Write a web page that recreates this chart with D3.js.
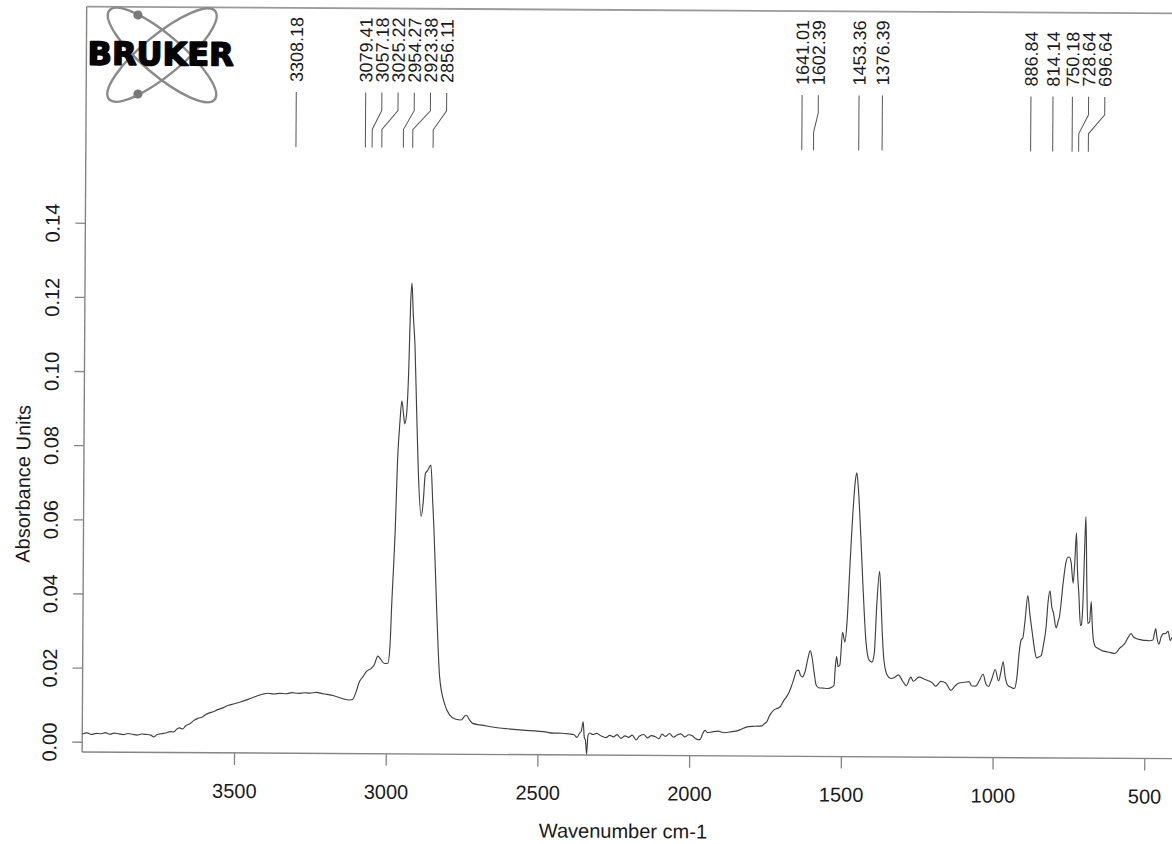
<!DOCTYPE html>
<html><head><meta charset="utf-8">
<script src="https://cdn.jsdelivr.net/npm/d3@7"></script>
<style>html,body{margin:0;padding:0;background:#fff;} svg{display:block;}</style>
</head><body>
<script>
const wavenumbers = [
4000,3985,3970,3955,3940,3925,3910,3895,3880,3865,3850,3835,3820,3805,3790,3775,3765,3755,3740,3725,
3710,3700,3690,3680,3670,3660,3645,3632,3620,3605,3595,3582,3570,3555,3540,3519,3500,3480,3455,3430,
3405,3390,3370,3350,3330,3310,3290,3270,3250,3230,3210,3195,3175,3153,3135,3120,3110,3100,3088,3075,
3066,3049,3040,3028,3020,3006,2995,2988,2984,2973,2967,2960,2954,2948,2944,2938,2932,2927,2923,2918,
2912,2905,2898,2888,2882,2875,2868,2857,2850,2846,2835,2824,2808,2790,2770,2752,2740,2735,2725,2714,
2690,2660,2626,2600,2570,2540,2510,2480,2446,2420,2395,2380,2370,2362,2356,2350,2346,2342,2338,2334,
2328,2318,2305,2290,2275,2262,2250,2238,2225,2212,2200,2188,2175,2165,2150,2138,2125,2112,2100,2090,
2078,2065,2052,2040,2028,2015,2002,1990,1980,1970,1964,1958,1948,1940,1925,1905,1885,1860,1840,1820,
1805,1785,1761,1750,1745,1737,1723,1712,1701,1690,1673,1665,1655,1648,1641,1635,1629,1620,1611,1603,
1597,1590,1583,1575,1560,1545,1530,1524,1520,1516,1511,1505,1497,1489,1482,1475,1464,1458,1453,1448,
1442,1431,1420,1409,1400,1392,1385,1376,1371,1367,1360,1349,1337,1325,1312,1300,1286,1271,1263,1244,
1225,1200,1189,1172,1156,1139,1125,1112,1095,1079,1070,1057,1045,1033,1024,1015,1004,993,982,975,
967,960,952,940,930,922,914,908,903,896,887,880,870,863,857,848,842,834,826,820,
814,808,802,793,787,782,771,762,756,750,745,738,733,728,724,719,713,710,705,700,
697,693,689,683,678,674,670,662,655,640,628,615,600,590,584,575,567,556,546,538,
529,515,505,496,485,474,469,465,460,454,447,441,432,424,417,410,400];

// Absorbance at each of those wavenumbers
const absorbance = [
0.0021,0.0024,0.0020,0.0023,0.0022,0.0025,0.0021,0.0024,0.0022,0.0020,0.0023,0.0021,0.0019,0.0022,0.0021,0.0019,0.0014,0.0020,0.0023,0.0025,
0.0029,0.0028,0.0035,0.0039,0.0036,0.0045,0.0051,0.0060,0.0065,0.0069,0.0075,0.0080,0.0083,0.0089,0.0093,0.0101,0.0105,0.0110,0.0117,0.0125,
0.0132,0.0134,0.0132,0.0134,0.0133,0.0136,0.0134,0.0136,0.0135,0.0137,0.0134,0.0132,0.0129,0.0123,0.0119,0.0117,0.0119,0.0137,0.0167,0.0182,
0.0194,0.0203,0.0212,0.0236,0.0229,0.0216,0.0217,0.0267,0.0360,0.0585,0.0764,0.0867,0.0925,0.0887,0.0863,0.0890,0.1007,0.1187,0.1243,0.1157,
0.1077,0.0897,0.0727,0.0614,0.0648,0.0730,0.0737,0.0752,0.0648,0.0586,0.0361,0.0181,0.0110,0.0078,0.0067,0.0065,0.0076,0.0078,0.0066,0.0056,
0.0052,0.0048,0.0044,0.0042,0.0040,0.0038,0.0037,0.0035,0.0031,0.0031,0.0029,0.0027,0.0020,0.0031,0.0037,0.0062,0.0020,0.0012,-0.0025,0.0025,
0.0032,0.0028,0.0031,0.0024,0.0020,0.0026,0.0022,0.0028,0.0018,0.0025,0.0021,0.0027,0.0014,0.0024,0.0029,0.0020,0.0026,0.0023,0.0018,0.0030,
0.0024,0.0032,0.0022,0.0028,0.0031,0.0023,0.0029,0.0026,0.0019,0.0016,0.0016,0.0028,0.0041,0.0035,0.0037,0.0039,0.0035,0.0038,0.0041,0.0048,
0.0052,0.0053,0.0054,0.0062,0.0065,0.0080,0.0096,0.0101,0.0106,0.0122,0.0143,0.0160,0.0185,0.0203,0.0205,0.0192,0.0187,0.0200,0.0235,0.0258,
0.0240,0.0200,0.0165,0.0158,0.0157,0.0156,0.0160,0.0165,0.0215,0.0242,0.0215,0.0220,0.0308,0.0282,0.0340,0.0467,0.0647,0.0715,0.0738,0.0700,
0.0620,0.0440,0.0287,0.0233,0.0228,0.0251,0.0377,0.0473,0.0400,0.0323,0.0233,0.0193,0.0184,0.0187,0.0194,0.0180,0.0165,0.0188,0.0177,0.0188,
0.0182,0.0173,0.0164,0.0177,0.0173,0.0153,0.0165,0.0173,0.0175,0.0177,0.0165,0.0165,0.0180,0.0197,0.0172,0.0164,0.0185,0.0210,0.0179,0.0200,
0.0231,0.0190,0.0168,0.0162,0.0159,0.0185,0.0260,0.0291,0.0295,0.0340,0.0410,0.0360,0.0300,0.0260,0.0242,0.0245,0.0248,0.0280,0.0327,0.0395,
0.0423,0.0380,0.0363,0.0323,0.0340,0.0356,0.0444,0.0500,0.0514,0.0514,0.0500,0.0444,0.0500,0.0580,0.0480,0.0416,0.0330,0.0332,0.0399,0.0560,
0.0624,0.0450,0.0336,0.0340,0.0395,0.0330,0.0291,0.0272,0.0269,0.0262,0.0260,0.0258,0.0255,0.0262,0.0269,0.0275,0.0282,0.0298,0.0309,0.0300,
0.0296,0.0293,0.0291,0.0291,0.0290,0.0292,0.0310,0.0323,0.0295,0.0281,0.0300,0.0309,0.0310,0.0316,0.0291,0.0300,0.0305];

// Peak-pick labels
const peakLabels = ["3308.18","3079.41","3057.18","3025.22","2954.27","2923.38","2856.11",
  "1641.01","1602.39","1453.36","1376.39","886.84","814.14","750.18","728.64","696.64"];

const yTicks = [0.00,0.02,0.04,0.06,0.08,0.10,0.12,0.14];
const xTicks = [3500,3000,2500,2000,1500,1000,500];
const xTitle = "Wavenumber cm-1";
const yTitle = "Absorbance Units";
const logoText = "BRUKER";

const W = 1172, H = 844;
const FONT = "'Liberation Sans', Arial, Helvetica, sans-serif";
const svg = d3.select("body").append("svg").attr("width", W).attr("height", H);
svg.append("rect").attr("width", W).attr("height", H).attr("fill", "#fff");

// the scanned page is very slightly rotated
const g = svg.append("g").attr("transform", "rotate(0.35 628 400)");

const frameLeft = 84.3, frameBottom = 755.3, frameTop = 10;
const x = d3.scaleLinear().domain([4000, 400]).range([84.5, 1176.8]);
const y = d3.scaleLinear().domain([0, 0.14]).range([745.1, 226.1]);

const frameColor = "#858585";

// frame
g.append("line").attr("x1", frameLeft).attr("x2", 1200).attr("y1", frameTop).attr("y2", frameTop)
  .attr("stroke", "#9a9a9a").attr("stroke-width", 1.8);
g.append("line").attr("x1", frameLeft).attr("x2", frameLeft).attr("y1", frameTop).attr("y2", frameBottom)
  .attr("stroke", frameColor).attr("stroke-width", 1.4);
g.append("line").attr("x1", frameLeft).attr("x2", 1200).attr("y1", frameBottom).attr("y2", frameBottom)
  .attr("stroke", frameColor).attr("stroke-width", 1.4);

// y axis
const yAxis = g.append("g").attr("transform", `translate(${frameLeft},0)`)
  .call(d3.axisLeft(y).tickValues(yTicks).tickSize(10).tickFormat(d3.format(".2f")));
yAxis.select(".domain").remove();
yAxis.selectAll(".tick line").attr("stroke", frameColor).attr("stroke-width", 1.3);
yAxis.selectAll(".tick text")
  .attr("transform", "rotate(-90)")
  .attr("x", 0).attr("y", 58.5 - frameLeft).attr("dy", 0)
  .attr("text-anchor", "middle")
  .attr("fill", "#1a1a1a").style("font-family", FONT).style("font-size", "20px");

// x axis
const xAxis = g.append("g").attr("transform", `translate(0,${frameBottom})`)
  .call(d3.axisBottom(x).tickValues(xTicks).tickSize(12).tickFormat(d3.format("d")));
xAxis.select(".domain").remove();
xAxis.selectAll(".tick line").attr("stroke", frameColor).attr("stroke-width", 1.3);
xAxis.selectAll(".tick text")
  .attr("y", 45).attr("dy", 0)
  .attr("fill", "#1a1a1a").style("font-family", FONT).style("font-size", "20px");

// titles
g.append("text").attr("x", 625.6).attr("y", 838).attr("text-anchor", "middle")
  .attr("fill", "#1a1a1a").style("font-family", FONT).style("font-size", "20px").text(xTitle);
g.append("text").attr("transform", "translate(30.5,487.5) rotate(-90)").attr("text-anchor", "middle")
  .attr("fill", "#1a1a1a").style("font-family", FONT).style("font-size", "20px").text(yTitle);

// spectrum
const pts = wavenumbers.map((w, i) => [w, absorbance[i]]);
const line = d3.line().x(d => x(d[0])).y(d => y(d[1])).curve(d3.curveMonotoneX);
g.append("path").datum(pts).attr("d", line)
  .attr("fill", "none").attr("stroke", "#404040").attr("stroke-width", 1.15)
  .attr("stroke-linejoin", "round");

// peak labels with leader lines
const minGap = 16.2;
let prevX = -Infinity;
const peaks = peakLabels.map(s => {
  const px = x(+s);
  const tx = Math.max(px, prevX + minGap);
  prevX = tx;
  return {s, px, tx};
});
const lbl = g.append("g");
peaks.forEach(p => {
  const path = d3.path();
  path.moveTo(p.tx, 94);
  if (Math.abs(p.tx - p.px) < 0.5) {
    path.lineTo(p.px, 149);
  } else {
    path.lineTo(p.tx, 112);
    path.lineTo(p.px, 131);
    path.lineTo(p.px, 149);
  }
  lbl.append("path").attr("d", path.toString()).attr("fill", "none")
    .attr("stroke", "#555").attr("stroke-width", 1);
  lbl.append("text").attr("transform", `translate(${p.tx},84) rotate(-90)`)
    .attr("dy", "0.36em").attr("text-anchor", "start")
    .attr("fill", "#1a1a1a").style("font-family", FONT).style("font-size", "18px")
    .text(p.s);
});

// Bruker logo
const logo = g.append("g");
[40, -40].forEach(a => {
  logo.append("ellipse").attr("cx", 0).attr("cy", 0).attr("rx", 69).attr("ry", 20)
    .attr("transform", `translate(159.9,57.9) rotate(${a})`)
    .attr("fill", "none").attr("stroke", "#8a8a8a").attr("stroke-width", 2.4);
});
logo.append("circle").attr("cx", 135.6).attr("cy", 18).attr("r", 4.6).attr("fill", "#7a7a7a");
logo.append("circle").attr("cx", 136.1).attr("cy", 97).attr("r", 4.6).attr("fill", "#7a7a7a");
logo.append("text").attr("x", 85.5).attr("y", 68)
  .attr("textLength", 146).attr("lengthAdjust", "spacingAndGlyphs")
  .attr("fill", "#050505").attr("stroke", "#050505").attr("stroke-width", 1.6)
  .attr("stroke-linejoin", "round")
  .style("font-family", "'DejaVu Sans', Arial, sans-serif")
  .style("font-weight", "bold").style("font-size", "32px").text(logoText);
</script>
</body></html>
